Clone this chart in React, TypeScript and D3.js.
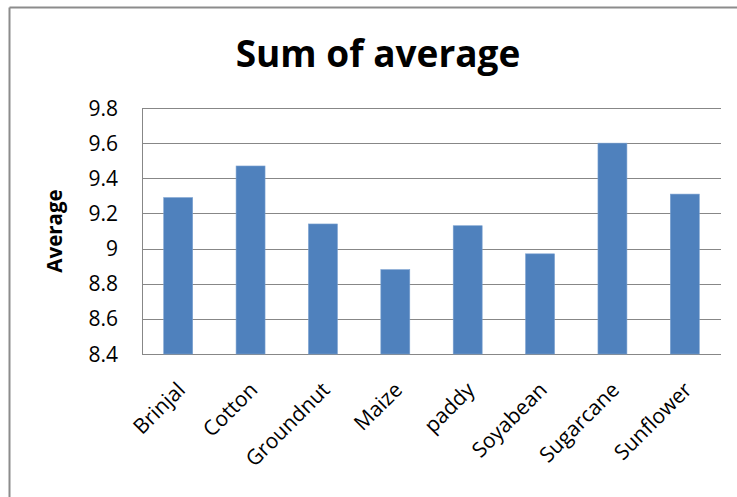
import React from "react";
import * as d3 from "d3";

const categories = ["Brinjal", "Cotton", "Groundnut", "Maize", "paddy", "Soyabean", "Sugarcane", "Sunflower"];
const values = [9.29, 9.47, 9.14, 8.88, 9.13, 8.97, 9.6, 9.31];
const yTicks = [8.4, 8.6, 8.8, 9.0, 9.2, 9.4, 9.6, 9.8];
const title = "Sum of average";
const yTitle = "Average";

const W = 737;
const H = 497;
const plot = { left: 142, right: 721, top: 108, bottom: 354 };
const FONT = "'Open Sans', 'Liberation Sans', sans-serif";

export default function App() {
  const x = d3
    .scaleBand<string>()
    .domain(categories)
    .range([plot.left, plot.right])
    .paddingInner(0.6)
    .paddingOuter(0.3);
  const y = d3.scaleLinear().domain([8.4, 9.8]).range([plot.bottom, plot.top]);
  const fmt = (v: number) => (Number.isInteger(v) ? String(v) : d3.format(".1f")(v));

  return (
    <svg
      width={W}
      height={H}
      style={{ position: "absolute", left: 0, top: 0, background: "#fff" }}
      fontFamily={FONT}
    >
      <rect x={0} y={0} width={W} height={H} fill="#fff" />
      {/* outer chart border (top and left visible) */}
      <line x1={9.5} x2={W} y1={7.5} y2={7.5} stroke="#8c8c8c" strokeWidth={2} />
      <line x1={9.5} x2={9.5} y1={7.5} y2={H} stroke="#8c8c8c" strokeWidth={2} />

      <text x={378} y={67} textAnchor="middle" fontSize={37} fontWeight="bold" fill="#000">
        {title}
      </text>

      {/* gridlines */}
      {yTicks.map((t) => (
        <line
          key={t}
          x1={plot.left}
          x2={plot.right}
          y1={Math.round(y(t)) + 0.5}
          y2={Math.round(y(t)) + 0.5}
          stroke="#878787"
          strokeWidth={1}
        />
      ))}
      <line x1={plot.left + 0.5} x2={plot.left + 0.5} y1={plot.top} y2={plot.bottom} stroke="#878787" />

      {/* bars */}
      {categories.map((c, i) => (
        <rect
          key={c}
          x={x(c)}
          y={y(values[i])}
          width={x.bandwidth()}
          height={plot.bottom - y(values[i])}
          fill="#4f81bd"
          stroke="#7aa0d0"
          strokeWidth={0.6}
        />
      ))}

      {/* y tick labels */}
      {yTicks.map((t) => (
        <text key={t} x={118} y={y(t)} dy="0.36em" textAnchor="end" fontSize={21} fill="#000">
          {fmt(t)}
        </text>
      ))}

      <text
        transform={`translate(62, ${(plot.top + plot.bottom) / 2}) rotate(-90)`}
        textAnchor="middle"
        fontSize={20.5}
        fontWeight="bold"
        fill="#000"
      >
        {yTitle}
      </text>

      {/* x labels */}
      {categories.map((c) => {
        const cx = (x(c) as number) + x.bandwidth() / 2;
        return (
          <text
            key={c}
            transform={`translate(${cx + 3}, ${plot.bottom + 32}) rotate(-45)`}
            textAnchor="end"
            dy="0.35em"
            fontSize={21}
            fill="#000"
          >
            {c}
          </text>
        );
      })}
    </svg>
  );
}
